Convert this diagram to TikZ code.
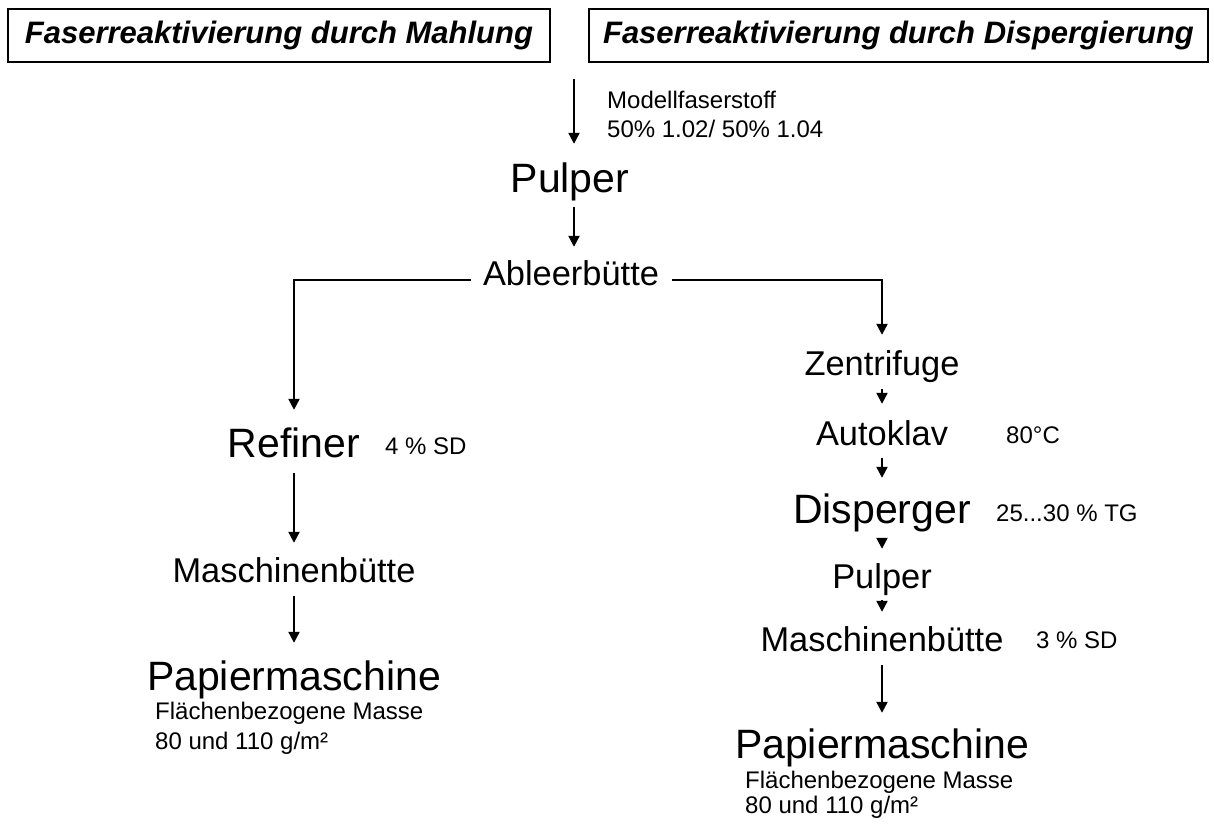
\documentclass[tikz,border=0pt]{standalone}
\usepackage{fontspec}
\setmainfont{Liberation Sans}
\usetikzlibrary{arrows.meta}
\tikzset{
  big/.style={font=\fontsize{41}{45}\selectfont, inner sep=0pt, text height=30pt, text depth=9pt, anchor=base},
  mid/.style={font=\fontsize{34.4}{38}\selectfont, inner sep=0pt, text height=25pt, text depth=7pt, anchor=base},
  small/.style={font=\fontsize{24}{28}\selectfont, inner sep=0pt, anchor=base west},
  titlebox/.style={draw, line width=2pt, font=\fontsize{31}{34}\selectfont\bfseries\itshape, minimum height=53pt, inner sep=0pt},
  arr/.style={line width=2.2pt, -{Triangle[width=11pt,length=11pt]}},
  ln/.style={line width=2.2pt}
}
\begin{document}
\begin{tikzpicture}[x=1pt,y=-1pt]
\useasboundingbox (0,0) rectangle (1214,823);
% titles
\node[titlebox, minimum width=542pt] (tl) at (279,35.5) {Faserreaktivierung durch Mahlung};
\node[titlebox, minimum width=619pt] (tr) at (898.5,35.5) {Faserreaktivierung durch Dispergierung};
% top
\coordinate (src) at (574,79);
\node[small] (mf) at (607,108) {Modellfaserstoff};
\node[small] (mfb) at (607,137) {50\% 1.02/ 50\% 1.04};
\node[big] (pulper1) at (570,192) {Pulper};
\node[mid] (ableer) at (571,285) {Ableerbütte};
\coordinate (lc) at (294,280);
\coordinate (rc) at (882,280);
% left column
\node[big] (refiner) at (294,457) {Refiner};
\node[small] (sd4) at (385,454) {4 \% SD};
\node[mid] (masch1) at (294,582) {Maschinenbütte};
\node[big] (papier1) at (294,690) {Papiermaschine};
\node[small] (fl1) at (155,719) {Flächenbezogene Masse};
\node[small] (gm1) at (155,749) {80 und 110 g/m²};
% right column
\node[mid] (zent) at (882,375) {Zentrifuge};
\node[mid] (auto) at (882,445) {Autoklav};
\node[small] (t80) at (1006,443) {80°C};
\node[big] (disp) at (882,523) {Disperger};
\node[small] (tg) at (996,521) {25...30 \% TG};
\node[mid] (pulper2) at (882,588) {Pulper};
\node[mid] (masch2) at (882,651) {Maschinenbütte};
\node[small] (sd3) at (1036,648) {3 \% SD};
\node[big] (papier2) at (882,758) {Papiermaschine};
\node[small] (fl2) at (745,788) {Flächenbezogene Masse};
\node[small] (gm2) at (745,813) {80 und 110 g/m²};
% connectors
\draw[arr, shorten >=18pt] (src) -- (src |- pulper1.north);
\draw[arr, shorten <=6pt, shorten >=13pt] (pulper1.south -| src) -- (ableer.north -| src);
\draw[arr, shorten <=12pt, shorten >=17pt] (ableer.west |- lc) -- (lc) -- (lc |- refiner.north);
\draw[arr, shorten <=13pt, shorten >=15pt] (ableer.east |- rc) -- (rc) -- (rc |- zent.north);
\draw[arr, shorten <=7pt, shorten >=14pt] (refiner.south) -- (masch1.north);
\draw[arr, shorten <=7pt, shorten >=17pt] (masch1.south) -- (papier1.north);
\draw[arr, shorten <=7pt, shorten >=16pt] (zent.south) -- (auto.north);
\draw[arr, shorten <=6pt, shorten >=15pt] (auto.south) -- (disp.north);
\draw[arr, shorten <=6pt, shorten >=14pt] (disp.south) -- (pulper2.north);
\draw[arr, shorten <=5pt, shorten >=14pt] (pulper2.south) -- (masch2.north);
\draw[arr, shorten <=7pt, shorten >=15pt] (masch2.south) -- (papier2.north);
\end{tikzpicture}
\end{document}
